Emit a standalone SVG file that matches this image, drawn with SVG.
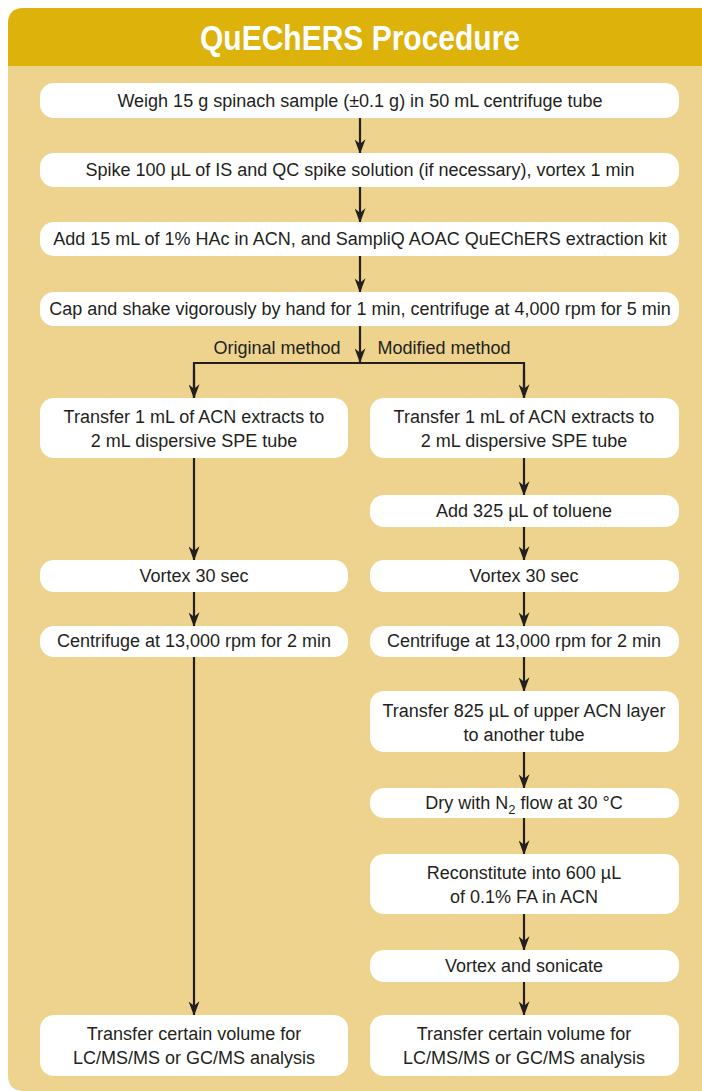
<svg xmlns="http://www.w3.org/2000/svg" width="702" height="1091" viewBox="0 0 702 1091">
<defs>
<style>
.box{fill:#ffffff;}
.t{font-family:"Liberation Sans",Arial,sans-serif;font-size:18px;fill:#231f20;text-anchor:middle;}
.c{stroke:#231f20;stroke-width:2.2;fill:none;}
</style>
<marker id="ad" viewBox="0 0 12 16" refX="6" refY="15" markerWidth="11" markerHeight="16" markerUnits="userSpaceOnUse" orient="0">
<path d="M0,0 L6,5 L12,0 L6,16 Z" fill="#231f20"/>
</marker>
</defs>
<path d="M8,24 Q8,8 24,8 L702,8 L702,1091 L24,1091 Q8,1091 8,1075 Z" fill="#edd38d"/>
<path d="M8,24 Q8,8 24,8 L702,8 L702,66 L8,66 Z" fill="#dcb20b"/>
<text x="360" y="50" font-family="Liberation Sans,Arial,sans-serif" font-size="35" font-weight="bold" fill="#ffffff" text-anchor="middle" textLength="320" lengthAdjust="spacingAndGlyphs">QuEChERS Procedure</text>

<g id="connectors">
<line class="c" x1="360" y1="118" x2="360" y2="153" marker-end="url(#ad)"/>
<line class="c" x1="360" y1="187" x2="360" y2="222" marker-end="url(#ad)"/>
<line class="c" x1="360" y1="256" x2="360" y2="292" marker-end="url(#ad)"/>
<line class="c" x1="360" y1="326" x2="360" y2="362" marker-end="url(#ad)"/>
<polyline class="c" points="194,398 194,363 524,363 524,398"/>
<line class="c" x1="194" y1="370" x2="194" y2="398" marker-end="url(#ad)"/>
<line class="c" x1="524" y1="370" x2="524" y2="398" marker-end="url(#ad)"/>
<line class="c" x1="194" y1="458" x2="194" y2="560" marker-end="url(#ad)"/>
<line class="c" x1="194" y1="592" x2="194" y2="626" marker-end="url(#ad)"/>
<line class="c" x1="194" y1="657" x2="194" y2="1015" marker-end="url(#ad)"/>
<line class="c" x1="524" y1="458" x2="524" y2="495" marker-end="url(#ad)"/>
<line class="c" x1="524" y1="527" x2="524" y2="560" marker-end="url(#ad)"/>
<line class="c" x1="524" y1="592" x2="524" y2="626" marker-end="url(#ad)"/>
<line class="c" x1="524" y1="657" x2="524" y2="691" marker-end="url(#ad)"/>
<line class="c" x1="524" y1="752" x2="524" y2="788" marker-end="url(#ad)"/>
<line class="c" x1="524" y1="818" x2="524" y2="854" marker-end="url(#ad)"/>
<line class="c" x1="524" y1="914" x2="524" y2="950" marker-end="url(#ad)"/>
<line class="c" x1="524" y1="982" x2="524" y2="1015" marker-end="url(#ad)"/>
<text class="t" x="277" y="354">Original method</text>
<text class="t" x="444" y="354">Modified method</text>
</g>

<g id="n1"><rect class="box" x="40" y="83" width="639" height="35" rx="14"/><text class="t" x="360" y="107">Weigh 15 g spinach sample (±0.1 g) in 50 mL centrifuge tube</text></g>
<g id="n2"><rect class="box" x="40" y="153" width="639" height="34" rx="14"/><text class="t" x="360" y="176">Spike 100 µL of IS and QC spike solution (if necessary), vortex 1 min</text></g>
<g id="n3"><rect class="box" x="40" y="222" width="639" height="34" rx="14"/><text class="t" x="360" y="245">Add 15 mL of 1% HAc in ACN, and SampliQ AOAC QuEChERS extraction kit</text></g>
<g id="n4"><rect class="box" x="40" y="292" width="639" height="34" rx="14"/><text class="t" x="360" y="315">Cap and shake vigorously by hand for 1 min, centrifuge at 4,000 rpm for 5 min</text></g>

<g id="L1"><rect class="box" x="40" y="398" width="308" height="60" rx="14"/><text class="t" x="194" y="423">Transfer 1 mL of ACN extracts to</text><text class="t" x="194" y="447">2 mL dispersive SPE tube</text></g>
<g id="L2"><rect class="box" x="40" y="560" width="308" height="32" rx="14"/><text class="t" x="194" y="582">Vortex 30 sec</text></g>
<g id="L3"><rect class="box" x="40" y="626" width="308" height="31" rx="14"/><text class="t" x="194" y="647">Centrifuge at 13,000 rpm for 2 min</text></g>
<g id="L4"><rect class="box" x="40" y="1015" width="308" height="61" rx="14"/><text class="t" x="194" y="1040">Transfer certain volume for</text><text class="t" x="194" y="1064">LC/MS/MS or GC/MS analysis</text></g>

<g id="R1"><rect class="box" x="370" y="398" width="309" height="60" rx="14"/><text class="t" x="524" y="423">Transfer 1 mL of ACN extracts to</text><text class="t" x="524" y="447">2 mL dispersive SPE tube</text></g>
<g id="R2"><rect class="box" x="370" y="495" width="309" height="32" rx="14"/><text class="t" x="524" y="517">Add 325 µL of toluene</text></g>
<g id="R3"><rect class="box" x="370" y="560" width="309" height="32" rx="14"/><text class="t" x="524" y="582">Vortex 30 sec</text></g>
<g id="R4"><rect class="box" x="370" y="626" width="309" height="31" rx="14"/><text class="t" x="524" y="647">Centrifuge at 13,000 rpm for 2 min</text></g>
<g id="R5"><rect class="box" x="370" y="691" width="309" height="61" rx="14"/><text class="t" x="524" y="717">Transfer 825 µL of upper ACN layer</text><text class="t" x="524" y="741">to another tube</text></g>
<g id="R6"><rect class="box" x="370" y="788" width="309" height="30" rx="14"/><text class="t" x="524" y="809">Dry with N<tspan font-size="13" dy="5">2</tspan><tspan dy="-5"> flow at 30 °C</tspan></text></g>
<g id="R7"><rect class="box" x="370" y="854" width="309" height="60" rx="14"/><text class="t" x="524" y="879">Reconstitute into 600 µL</text><text class="t" x="524" y="903">of 0.1% FA in ACN</text></g>
<g id="R8"><rect class="box" x="370" y="950" width="309" height="32" rx="14"/><text class="t" x="524" y="972">Vortex and sonicate</text></g>
<g id="R9"><rect class="box" x="370" y="1015" width="309" height="61" rx="14"/><text class="t" x="524" y="1040">Transfer certain volume for</text><text class="t" x="524" y="1064">LC/MS/MS or GC/MS analysis</text></g>
</svg>
